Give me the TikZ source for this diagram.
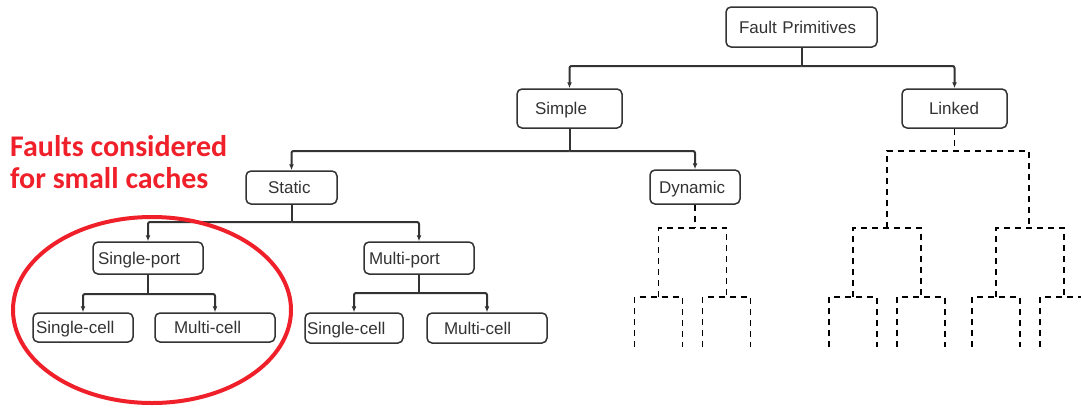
\documentclass[tikz,border=0pt]{standalone}
\usepackage{fontspec}
\setmainfont{Liberation Sans}
\newfontfamily\notefont{Carlito}
\usetikzlibrary{arrows.meta}
\definecolor{ink}{HTML}{333333}
\definecolor{notered}{HTML}{F0202A}

\begin{document}
\begin{tikzpicture}[x=1pt,y=-1pt,
  box/.style={draw=ink, line width=1.5pt, rounded corners=5pt, align=left,
    text=ink, font=\fontsize{17}{17}\selectfont, inner ysep=0pt,
    text height=12.2pt, text depth=0pt},
  bx/.style 2 args={box, inner xsep=#1pt, text width=#2pt},
  link/.style={draw=ink, line width=2pt, rounded corners=2pt},
  arr/.style={link, -{Latex[length=6pt,width=5pt]}},
  ghost/.style={draw=black, line width=1.4pt, dash pattern=on 6pt off 5pt},
]
\useasboundingbox (0,0) rectangle (1081,407);
\clip (0,0) rectangle (1081,407);

% category boxes
\node[bx={13}{125}, minimum height=40pt] (fp)      at (801.5,27)  {Fault Primitives};
\node[bx={18}{69},  minimum height=39pt] (simple)  at (569.5,108.5) {Simple};
\node[bx={27}{51},  minimum height=39pt] (linked)  at (954.5,108.5) {Linked};
\node[bx={22}{47},  minimum height=33pt] (static)  at (291.5,187.5) {Static};
\node[bx={9}{72},   minimum height=34pt] (dynamic) at (695,187)   {Dynamic};
\node[bx={5}{100},  minimum height=32pt] (sp)      at (148,258)   {Single-port};
\node[bx={5}{100},  minimum height=32pt] (mp)      at (419,258)   {Multi-port};
\node[bx={3}{94},   minimum height=29pt] (sc1)     at (83,327.5)  {Single-cell};
\node[bx={19}{82},  minimum height=29pt] (mc1)     at (215,327.5) {Multi-cell};
\node[bx={2}{94},   minimum height=30pt] (sc2)     at (354,328)   {Single-cell};
\node[bx={17}{86},  minimum height=30pt] (mc2)     at (487,328)   {Multi-cell};

% branch junctions
\coordinate (j0) at (fp.south |- 0,66);
\coordinate (j1) at (simple.south |- 0,151);
\coordinate (j2) at (static.south |- 0,222);
\coordinate (j3) at (sp.south |- 0,294);
\coordinate (j4) at (mp.south |- 0,293);

\draw[link] (fp.south) -- (j0);
\draw[arr] (j0) -| (simple.north);
\draw[arr] (j0) -| (linked.north);

\draw[link] (simple.south) -- (j1);
\draw[arr] (j1) -| (static.north);
\draw[arr] (j1) -| (dynamic.north);

\draw[link] (static.south) -- (j2);
\draw[arr] (j2) -| (sp.north);
\draw[arr] (j2) -| (mp.north);

\draw[link] (sp.south) -- (j3);
\draw[arr] (j3) -| (sc1.north);
\draw[arr] (j3) -| (mc1.north);

\draw[link] (mp.south) -- (j4);
\draw[arr] (j4) -| (sc2.north);
\draw[arr] (j4) -| (mc2.north);

% open-ended subtrees below Dynamic and Linked
\coordinate (d0) at (dynamic.south |- 0,228);
\coordinate (l0) at (linked.south |- 0,151);
\draw[ghost] (dynamic.south) -- (d0);
\draw[ghost] (linked.south) -- (l0);
\draw[ghost] (887,228) -- (887,151) -- (1029,151) -- (1029,228);
\foreach \c in {692.5,887,1030}
  \draw[ghost] (\c-34,297) -- (\c-34,228) -- (\c+34,228) -- (\c+34,297);
\foreach \c in {658.5,726.5,853,921,996,1064}
  \draw[ghost] (\c-24,347) -- (\c-24,297) -- (\c+24,297) -- (\c+24,347);

% highlighted group
\node[anchor=north west, inner sep=0pt, align=left, text=notered,
  font=\notefont\bfseries\fontsize{30}{32}\selectfont] (note) at (10,135)
  {Faults considered\\for small caches};
\draw[notered, line width=4pt] (152,310) ellipse [x radius=139pt, y radius=93pt];
\end{tikzpicture}
\end{document}
